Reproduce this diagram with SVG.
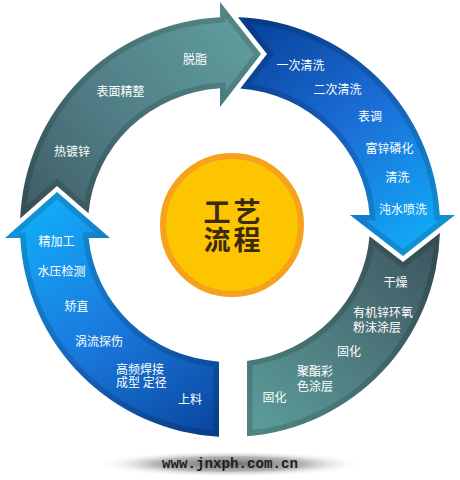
<svg xmlns="http://www.w3.org/2000/svg" width="460" height="480" viewBox="0 0 460 480">
<style>
.lbl{font-family:"Noto Sans CJK SC","Noto Sans",sans-serif;font-size:12px;fill:#ffffff}
.mid{text-anchor:middle}
.rim{fill:none;stroke:#000;stroke-opacity:0.14;stroke-width:11}
.ttl{font-family:"Noto Sans CJK SC",sans-serif;font-size:27px;font-weight:700;fill:#3a2a0e;text-anchor:middle;letter-spacing:3px}
</style>
<defs>
<linearGradient id="gA" gradientUnits="userSpaceOnUse" x1="30" y1="225" x2="255" y2="45">
<stop offset="0" stop-color="#3f5b65"/><stop offset="0.45" stop-color="#507d85"/><stop offset="1" stop-color="#5f9c9d"/>
</linearGradient>
<linearGradient id="gB" gradientUnits="userSpaceOnUse" x1="250" y1="35" x2="405" y2="250">
<stop offset="0" stop-color="#0a459e"/><stop offset="0.5" stop-color="#1b6fd8"/><stop offset="1" stop-color="#12a8f6"/>
</linearGradient>
<linearGradient id="gC" gradientUnits="userSpaceOnUse" x1="420" y1="240" x2="255" y2="420">
<stop offset="0" stop-color="#3f5862"/><stop offset="1" stop-color="#5b9a98"/>
</linearGradient>
<linearGradient id="gD" gradientUnits="userSpaceOnUse" x1="60" y1="200" x2="215" y2="430">
<stop offset="0" stop-color="#13a9f7"/><stop offset="0.5" stop-color="#1a78dc"/><stop offset="1" stop-color="#0a479f"/>
</linearGradient>
<radialGradient id="gS" cx="0.5" cy="0.5" r="0.5">
<stop offset="0" stop-color="#6e6e6e"/><stop offset="0.55" stop-color="#9a9a9a" stop-opacity="0.75"/><stop offset="1" stop-color="#ffffff" stop-opacity="0"/>
</radialGradient>
<path id="pA" d="M20.2,218.6 A210,210 0 0 1 220,17.2 L220,2 L261,54 L220,107 L220,88.3 A141,137 0 0 0 88.5,213.3 L57,186 Z"/>
<path id="pB" d="M238,17.2 A210,210 0 0 1 439.7,215 L455,215 L403,256 L350,215 L369.6,215 A141,137 0 0 0 240.3,88.5 L267,54 Z"/>
<path id="pC" d="M439.9,232.9 A210,210 0 0 1 247,436.3 L247,360.9 A141,137 0 0 0 369.55,236.2 L403,262 Z"/>
<path id="pD" d="M219,361.65 L219,436.7 A210,210 0 0 1 20.3,238 L5,238 L57,192 L110,238 L88.6,238 A141,137 0 0 0 219,361.65 Z"/>
<clipPath id="cA"><use href="#pA"/></clipPath>
<clipPath id="cB"><use href="#pB"/></clipPath>
<clipPath id="cC"><use href="#pC"/></clipPath>
<clipPath id="cD"><use href="#pD"/></clipPath>
</defs>
<rect width="460" height="480" fill="#ffffff"/>

<g id="connectors"/>

<g id="stage-galvanize">
<use href="#pA" fill="url(#gA)"/>
<use href="#pA" class="rim" clip-path="url(#cA)"/>
<text class="lbl mid" x="195" y="64">脱脂</text>
<text class="lbl mid" x="120.5" y="96">表面精整</text>
<text class="lbl mid" x="72" y="156">热镀锌</text>
</g>

<g id="stage-pretreat">
<use href="#pB" fill="url(#gB)"/>
<use href="#pB" class="rim" clip-path="url(#cB)"/>
<text class="lbl mid" x="300.5" y="70">一次清洗</text>
<text class="lbl mid" x="337.5" y="94">二次清洗</text>
<text class="lbl mid" x="370" y="121">表调</text>
<text class="lbl mid" x="389.5" y="153">富锌磷化</text>
<text class="lbl mid" x="397.5" y="182">清洗</text>
<text class="lbl mid" x="403" y="214">沌水喷洗</text>
</g>

<g id="stage-coating">
<use href="#pC" fill="url(#gC)"/>
<use href="#pC" class="rim" clip-path="url(#cC)"/>
<text class="lbl mid" x="395.5" y="287">干燥</text>
<text class="lbl" x="353" y="317">有机锌环氧<tspan x="353" dy="15">粉沫涂层</tspan></text>
<text class="lbl mid" x="349" y="356">固化</text>
<text class="lbl" x="297" y="376">聚酯彩<tspan x="297" dy="15">色涂层</tspan></text>
<text class="lbl mid" x="274.5" y="402">固化</text>
</g>

<g id="stage-forming">
<use href="#pD" fill="url(#gD)"/>
<use href="#pD" class="rim" clip-path="url(#cD)"/>
<text class="lbl mid" x="56.5" y="246">精加工</text>
<text class="lbl mid" x="61.5" y="276">水压检测</text>
<text class="lbl mid" x="76.5" y="311">矫直</text>
<text class="lbl mid" x="99" y="346">涡流探伤</text>
<text class="lbl" x="116" y="374">高频焊接<tspan x="116" dy="13">成型 定径</tspan></text>
<text class="lbl mid" x="190" y="404">上料</text>
</g>

<g id="center">
<circle cx="232" cy="225" r="69" fill="#fdc400" stroke="#f6a21d" stroke-width="6"/>
<text class="ttl" x="233.5" y="221.5">工艺<tspan x="233.5" dy="28.5">流程</tspan></text>
</g>

<g id="footer">
<ellipse cx="230" cy="464" rx="135" ry="13" fill="url(#gS)"/>
<text x="162" y="468" font-family="Liberation Mono, monospace" font-weight="700" font-size="14" fill="#1e1e1e" textLength="136" lengthAdjust="spacingAndGlyphs">www.jnxph.com.cn</text>
</g>
</svg>
